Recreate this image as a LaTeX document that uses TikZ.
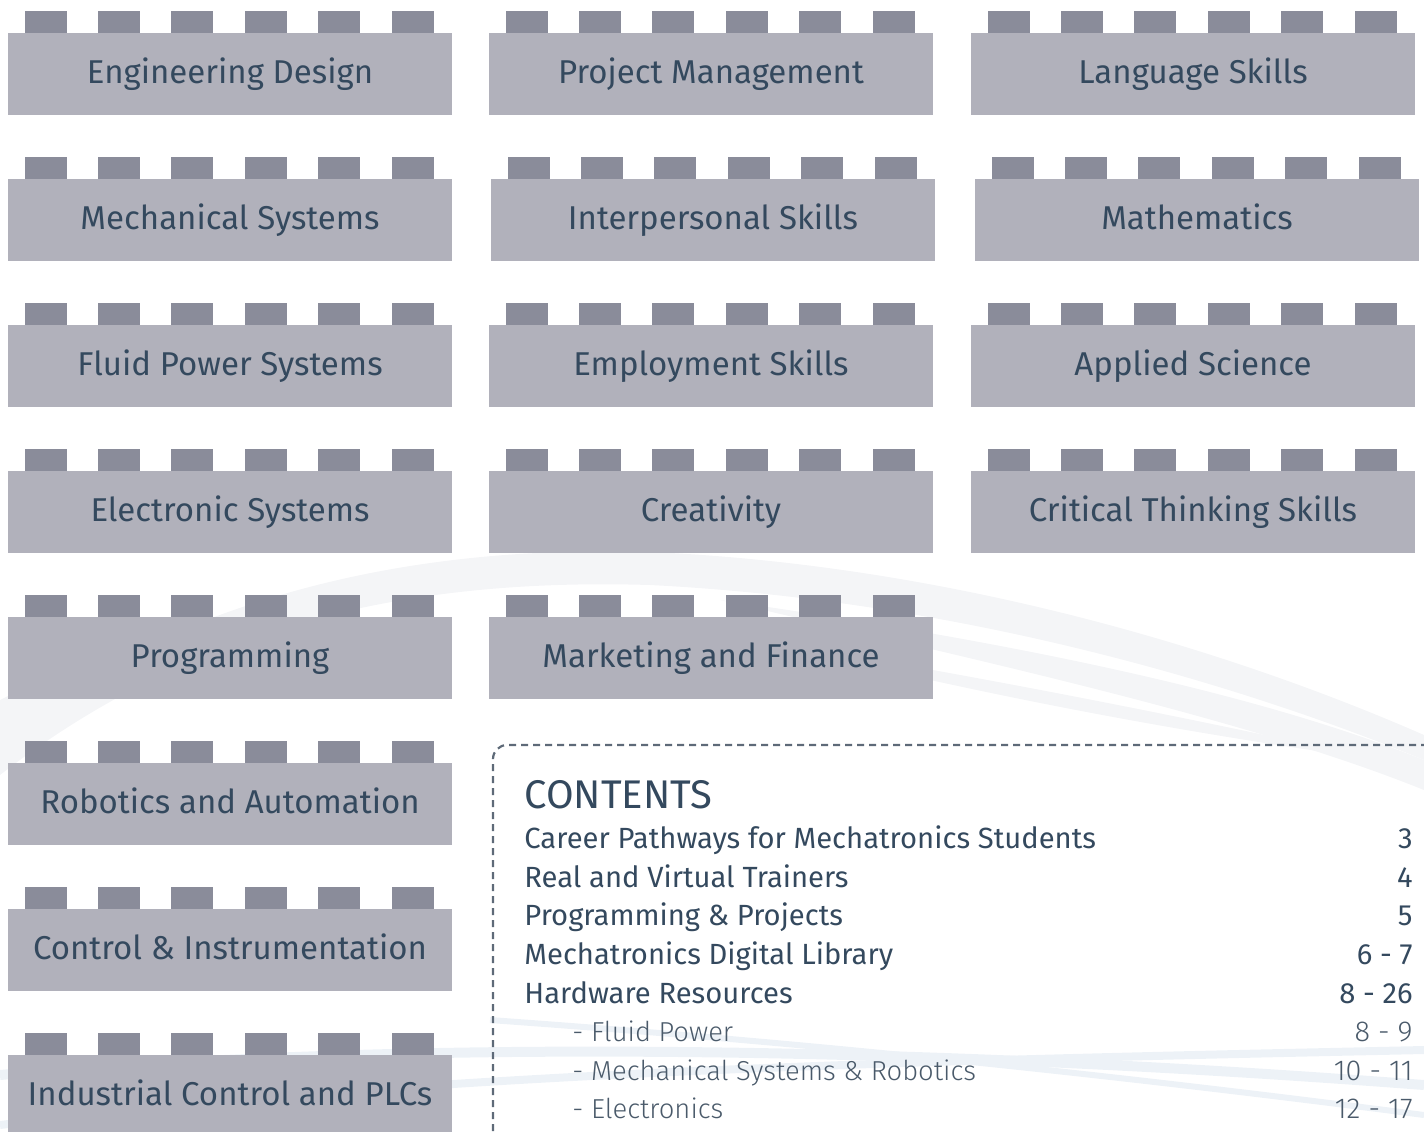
\documentclass[tikz,border=0pt]{standalone}
\usepackage{fontspec}
\setmainfont{Fira Sans}
\newfontfamily\lightfont{Fira Sans Light}
\usetikzlibrary{positioning}

\definecolor{brickbody}{HTML}{B1B1BB}
\definecolor{brickstud}{HTML}{8A8C9A}
\definecolor{inktext}{HTML}{34495E}
\definecolor{inklight}{HTML}{4A5A6A}
\definecolor{dashline}{HTML}{5E6A78}
\definecolor{swoosh}{HTML}{F4F5F7}
\definecolor{swooshblue}{HTML}{EDF2F7}

\tikzset{
  brick/.style={fill=brickbody, minimum width=222pt, minimum height=41pt,
    inner sep=0pt, text=inktext, font=\fontsize{16.5}{18}\selectfont,
    text height=12pt, text depth=3pt},
  stud/.style={fill=brickstud},
  ctitle/.style={anchor=base west, inner sep=0pt, text=inktext,
    font=\fontsize{20}{22}\selectfont},
  entry/.style={anchor=base west, inner sep=0pt, text=inktext,
    font=\fontsize{14.6}{16}\selectfont},
  subentry/.style={anchor=base west, inner sep=0pt, text=inklight,
    font=\lightfont\fontsize{13.7}{16}\selectfont},
  pageno/.style={anchor=base east, inner sep=0pt, text=inktext,
    font=\fontsize{14.6}{16}\selectfont},
  subpageno/.style={anchor=base east, inner sep=0pt, text=inklight,
    font=\lightfont\fontsize{14.4}{16}\selectfont}
}

% six studs on top of a brick
\newcommand{\studs}[1]{%
  \foreach \k in {0,...,5}
    \fill[stud] ([xshift=8.5pt+\k*36.7pt]#1.north west) rectangle ++(42,-22);
}

\begin{document}
\begin{tikzpicture}[x=0.5pt,y=-0.5pt]
  \useasboundingbox (0,0) rectangle (1424,1131);
  \clip (0,0) rectangle (1424,1131);

  % background swooshes
  \fill[swoosh] (0,730) .. controls (200,590) and (420,545) .. (650,552)
    .. controls (950,565) and (1230,650) .. (1424,735) -- (1424,760)
    .. controls (1230,680) and (950,600) .. (650,585)
    .. controls (420,578) and (200,620) .. (0,775) -- cycle;
  \fill[swoosh] (720,600) .. controls (1000,640) and (1250,690) .. (1424,760)
    -- (1424,790) .. controls (1250,720) and (1000,665) .. (720,600) -- cycle;
  \fill[swoosh] (760,640) .. controls (1000,680) and (1200,720) .. (1380,760)
    .. controls (1200,735) and (1000,700) .. (760,640) -- cycle;
  \fill[swoosh] (0,700) .. controls (20,690) and (40,680) .. (60,672)
    -- (60,700) .. controls (40,710) and (20,720) .. (0,735) -- cycle;
  \draw[swooshblue, line width=5] (0,1075) .. controls (400,1040) and (900,1045) .. (1424,1085);
  \draw[swooshblue, line width=4] (0,1125) .. controls (450,1070) and (950,1060) .. (1424,1050);
  \draw[swooshblue, line width=3] (490,1020) .. controls (700,1035) and (1000,1060) .. (1424,1115);

  % column one
  \node[brick] (engdesign) at (230,74) {Engineering Design};
  \node[brick] (mechsys) at (230,220) {Mechanical Systems};
  \node[brick] (fluidpower) at (230,366) {Fluid Power Systems};
  \node[brick] (electronic) at (230,512) {Electronic Systems};
  \node[brick] (programming) at (230,658) {Programming};
  \node[brick] (robotics) at (230,804) {Robotics and Automation};
  \node[brick] (control) at (230,950) {Control \& Instrumentation};
  \node[brick] (plcs) at (230,1096) {Industrial Control and PLCs};

  % column two
  \node[brick] (projmgmt) at (711,74) {Project Management};
  \node[brick] (interskills) at (713,220) {Interpersonal Skills};
  \node[brick] (employskills) at (711,366) {Employment Skills};
  \node[brick] (creativity) at (711,512) {Creativity};
  \node[brick] (marketing) at (711,658) {Marketing and Finance};

  % column three
  \node[brick] (langskills) at (1193,74) {Language Skills};
  \node[brick] (maths) at (1197,220) {Mathematics};
  \node[brick] (appscience) at (1193,366) {Applied Science};
  \node[brick] (critthink) at (1193,512) {Critical Thinking Skills};

  \foreach \b in {engdesign,mechsys,fluidpower,electronic,programming,robotics,
      control,plcs,projmgmt,interskills,employskills,creativity,marketing,
      langskills,maths,appscience,critthink}
    {\studs{\b}}

  % contents panel
  \draw[dashline, line width=1.1, dash pattern=on 3.5pt off 2.5pt, rounded corners=7]
    (1440,745) -- (493,745) -- (493,1145);

  \node[ctitle] (contents) at (524,808) {CONTENTS};
  \node[entry] (career) at (524,848) {Career Pathways for Mechatronics Students};
  \node[entry] (trainers) at (524,887) {Real and Virtual Trainers};
  \node[entry] (projects) at (524,925) {Programming \& Projects};
  \node[entry] (library) at (524,964) {Mechatronics Digital Library};
  \node[entry] (hardware) at (524,1003) {Hardware Resources};
  \node[subentry] (fluid) at (572,1041) {- Fluid Power};
  \node[subentry] (mechrob) at (572,1080) {- Mechanical Systems \& Robotics};
  \node[subentry] (electr) at (572,1118) {- Electronics};

  \node[pageno] (careerpg) at (1413,848) {3};
  \node[pageno] (trainerspg) at (1413,887) {4};
  \node[pageno] (projectspg) at (1413,925) {5};
  \node[pageno] (librarypg) at (1413,964) {6 - 7};
  \node[pageno] (hardwarepg) at (1413,1003) {8 - 26};
  \node[subpageno] (fluidpg) at (1413,1041) {8 - 9};
  \node[subpageno] (mechrobpg) at (1413,1080) {10 - 11};
  \node[subpageno] (electrpg) at (1413,1118) {12 - 17};
\end{tikzpicture}
\end{document}
